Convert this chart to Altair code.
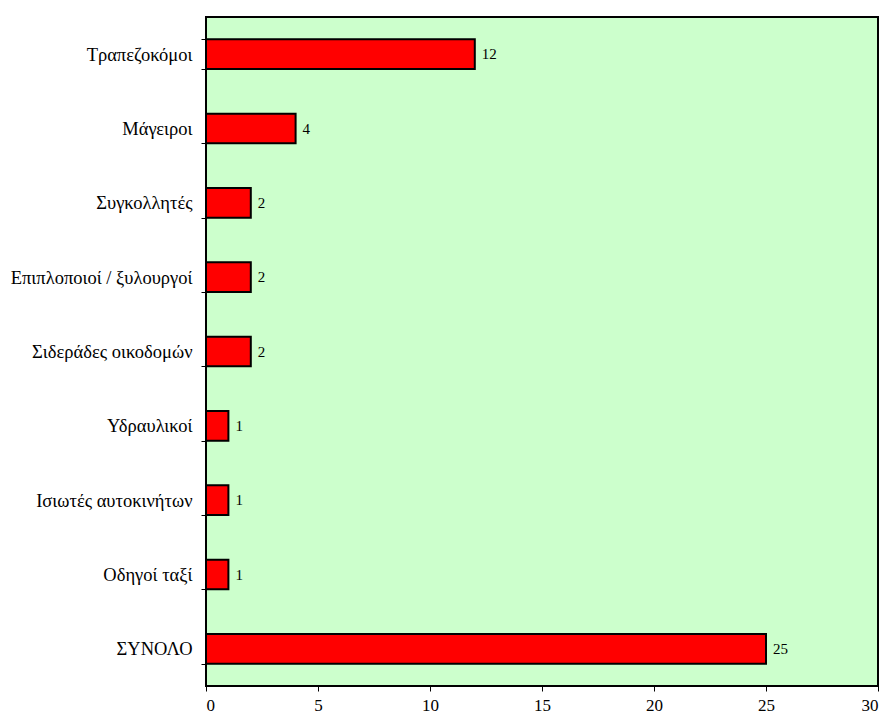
import altair as alt
import pandas as pd

categories = ["Τραπεζοκόμοι", "Μάγειροι", "Συγκολλητές", "Επιπλοποιοί / ξυλουργοί",
              "Σιδεράδες οικοδομών", "Υδραυλικοί", "Ισιωτές αυτοκινήτων", "Οδηγοί ταξί", "ΣΥΝΟΛΟ"]
values = [12, 4, 2, 2, 2, 1, 1, 1, 25]

df = pd.DataFrame({"cat": categories, "val": values})

FONT = "Liberation Serif"

y = alt.Y("cat:N", sort=categories, title=None,
          scale=alt.Scale(paddingInner=0.6, paddingOuter=0.3),
          axis=alt.Axis(tickBand="extent", labelFont=FONT, labelFontSize=18.5,
                        labelColor="black", domainColor="black", tickColor="black",
                        tickSize=5, labelPadding=9, domain=False, labelLimit=400,
                        minExtent=198, maxExtent=198))
x = alt.X("val:Q", title=None,
          scale=alt.Scale(domain=[0, 30], nice=False),
          axis=alt.Axis(values=[0, 5, 10, 15, 20, 25, 30], grid=False, labelFont=FONT,
                        labelFontSize=17, labelColor="black", tickColor="black",
                        domain=False, tickSize=5, labelPadding=6))

bars = alt.Chart(df).mark_bar(color="#FF0000", stroke="black", strokeWidth=2).encode(x=x, y=y)
text = alt.Chart(df).mark_text(align="left", dx=7, font=FONT, fontSize=15, color="black").encode(
    x="val:Q", y=alt.Y("cat:N", sort=categories), text="val:Q")

chart = (bars + text).properties(
    width=672, height=669,
    background="white",
    padding={"left": 0, "top": 0, "right": 0, "bottom": 0},
).configure_view(fill="#CCFFCC", stroke="black", strokeWidth=2)

chart.save("out.html", embed_options={"renderer": "svg", "actions": False})
